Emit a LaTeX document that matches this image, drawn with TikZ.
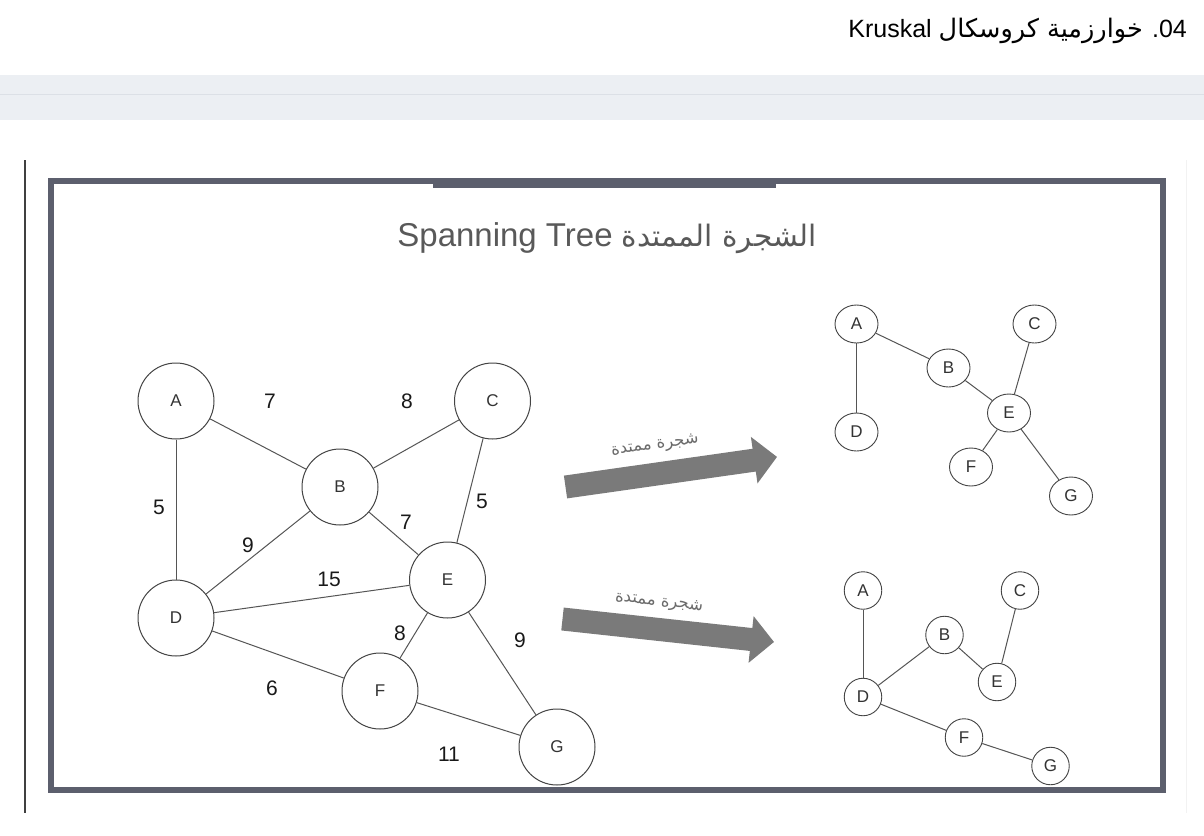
\documentclass[tikz,border=0pt]{standalone}
\usepackage{fontspec}
\setmainfont{Liberation Sans}
\newfontfamily\arabicfont[Script=Arabic]{DejaVu Sans}
\TeXXeTstate=1
\usetikzlibrary{shapes.geometric}
\definecolor{framecol}{HTML}{5C5F6D}
\definecolor{bandgray}{HTML}{ECEFF3}
\definecolor{bandline}{HTML}{DCE0E6}
\definecolor{arrowgray}{HTML}{7A7A7A}
\definecolor{circcol}{HTML}{444444}
\definecolor{edgecol}{HTML}{555555}
\definecolor{lettercol}{HTML}{333333}
\tikzset{
  bigv/.style={circle, draw=circcol, line width=1pt, minimum size=76pt, inner sep=0pt,
    font=\fontsize{17}{20}\selectfont, text=lettercol},
  topv/.style={ellipse, draw=circcol, line width=0.9pt, minimum width=43pt, minimum height=38pt, inner sep=0pt,
    font=\fontsize{17}{20}\selectfont, text=lettercol},
  botv/.style={circle, draw=circcol, line width=0.9pt, minimum size=37.5pt, inner sep=0pt,
    font=\fontsize{17}{20}\selectfont, text=lettercol},
  edge/.style={draw=edgecol, line width=1pt},
  wlab/.style={font=\fontsize{21}{24}\selectfont, text=black!90, inner sep=0pt},
  blockarrow/.style={fill=arrowgray},
  arrlab/.style={font=\arabicfont\fontsize{16.5}{19}\selectfont, text=black!58, inner sep=0pt},
}
\begin{document}
\begin{tikzpicture}[x=1pt,y=-1pt]
\useasboundingbox (0,0) rectangle (1204,835);
\fill[white] (0,0) rectangle (1204,835);
% header bands
\fill[bandgray] (0,75) rectangle (1204,120);
\draw[bandline, line width=1pt] (0,94.5) -- (1204,94.5);
% side lines
\draw[black!75, line width=1.2pt] (25,160) -- (25,813);
\draw[black!5, line width=1pt] (1186,160) -- (1186,813);
% title
\node[anchor=base east, inner sep=0pt, font=\fontsize{25}{30}\selectfont] (title) at (1187,37)
  {\beginR\beginL 04\endL. {\arabicfont\fontsize{25.5}{30}\selectfont خوارزمية كروسكال} \beginL Kruskal\endL\endR};
% frame
\draw[framecol, line width=6pt] (51,181) rectangle (1163,790);
\fill[framecol] (433,178) rectangle (776,188);
% heading
\node[anchor=base, inner sep=0pt, text=black!65, font=\fontsize{33}{40}\selectfont] (heading) at (607,246)
  {\beginR{\arabicfont\fontsize{29.5}{36}\selectfont الشجرة الممتدة} \beginL Spanning Tree\endL\endR};

% left graph
\node[bigv] (A) at (176,401) {A};
\node[bigv] (B) at (340,487) {B};
\node[bigv] (C) at (492.5,401) {C};
\node[bigv] (D) at (176,618) {D};
\node[bigv] (E) at (447.5,580) {E};
\node[bigv] (F) at (380,691) {F};
\node[bigv] (G) at (557,747) {G};
\draw[edge] (A) -- (B);
\draw[edge] (B) -- (C);
\draw[edge] (A) -- (D);
\draw[edge] (C) -- (E);
\draw[edge] (B) -- (E);
\draw[edge] (B) -- (D);
\draw[edge] (D) -- (E);
\draw[edge] (E) -- (F);
\draw[edge] (E) -- (G);
\draw[edge] (D) -- (F);
\draw[edge] (F) -- (G);
\node[wlab] (wAB) at (270,401) {7};
\node[wlab] (wBC) at (407,401) {8};
\node[wlab] (wAD) at (159,507) {5};
\node[wlab] (wCE) at (482,501) {5};
\node[wlab] (wBE) at (406,522) {7};
\node[wlab] (wBD) at (248,545) {9};
\node[wlab] (wDE) at (329,579) {15};
\node[wlab] (wEF) at (400,633) {8};
\node[wlab] (wEG) at (520,640) {9};
\node[wlab] (wDF) at (272,688) {6};
\node[wlab] (wFG) at (449,754) {11};

% block arrows
\begin{scope}[shift={(565.5,487)}, rotate=8.1]
\fill[blockarrow] (0,-11.5) -- (190.6,-11.5) -- (190.6,-23.5) -- (213.6,0) -- (190.6,23.5) -- (190.6,11.5) -- (0,11.5) -- cycle;
\end{scope}
\begin{scope}[shift={(562.5,619)}, rotate=-6.2]
\fill[blockarrow] (0,-11.5) -- (189.7,-11.5) -- (189.7,-23.5) -- (212.7,0) -- (189.7,23.5) -- (189.7,11.5) -- (0,11.5) -- cycle;
\end{scope}
\node[arrlab, rotate=8.1] (lab1) at (655,446) {\beginR شجرة ممتدة\endR};
\node[arrlab, rotate=-6.2] (lab2) at (659,603) {\beginR شجرة ممتدة\endR};

% top tree
\node[topv] (tA) at (856.5,324) {A};
\node[topv] (tB) at (948.5,368) {B};
\node[topv] (tC) at (1034.5,324) {C};
\node[topv] (tD) at (856.5,432) {D};
\node[topv] (tE) at (1009,413) {E};
\node[topv] (tF) at (971,467) {F};
\node[topv] (tG) at (1071,496) {G};
\draw[edge] (tA) -- (tB);
\draw[edge] (tA) -- (tD);
\draw[edge] (tB) -- (tE);
\draw[edge] (tC) -- (tE);
\draw[edge] (tE) -- (tF);
\draw[edge] (tE) -- (tG);

% bottom tree
\node[botv] (bA) at (863,590.5) {A};
\node[botv] (bB) at (944.5,635) {B};
\node[botv] (bC) at (1020,590.5) {C};
\node[botv] (bD) at (863,697) {D};
\node[botv] (bE) at (997,682) {E};
\node[botv] (bF) at (964,737.5) {F};
\node[botv] (bG) at (1050.5,766) {G};
\draw[edge] (bA) -- (bD);
\draw[edge] (bD) -- (bB);
\draw[edge] (bB) -- (bE);
\draw[edge] (bE) -- (bC);
\draw[edge] (bD) -- (bF);
\draw[edge] (bF) -- (bG);
\end{tikzpicture}
\end{document}
